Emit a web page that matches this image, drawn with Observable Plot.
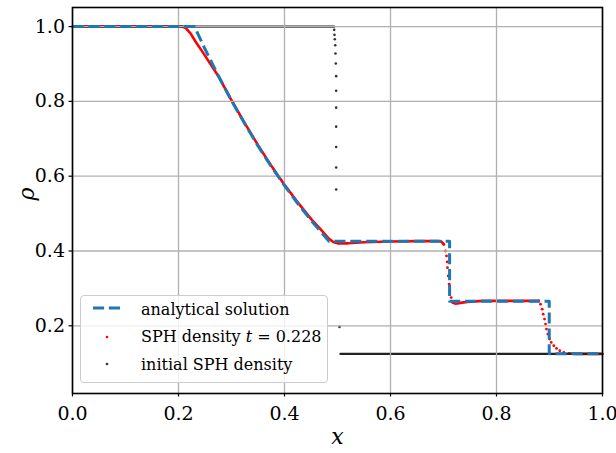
<!DOCTYPE html>
<html>
<head>
<meta charset="utf-8">
<script src="https://cdn.jsdelivr.net/npm/d3@7"></script>
<script src="https://cdn.jsdelivr.net/npm/@observablehq/plot@0.6"></script>
<style>
  body { margin: 0; background: #fff; }
  #wrap { position: relative; width: 616px; height: 453px; }
  #legend { position: absolute; left: 80px; top: 295px; width: 248px; height: 88px; box-sizing: border-box;
    border: 1px solid #cccccc; border-radius: 4px; background: rgba(255,255,255,0.8);
    font-family: "DejaVu Serif", serif; font-size: 16px; color: #000; }
  #legend .t { position: absolute; left: 60px; line-height: 16px; white-space: nowrap; }
  #legend svg { position: absolute; left: 0; top: 0; }
</style>
</head>
<body>
<div id="wrap"></div>
<script>
// ---- data ----
const xTicks = [0, 0.2, 0.4, 0.6, 0.8, 1.0];
const yTicks = [0.2, 0.4, 0.6, 0.8, 1.0];

// analytical solution (Sod tube)
const anaX   = [0, 0.2302, 0.25, 0.275, 0.3, 0.325, 0.35, 0.375, 0.4, 0.425, 0.45, 0.475, 0.484, 0.7115, 0.7115, 0.8995, 0.8995, 1.0];
const anaRho = [1, 1, 0.940, 0.869, 0.802, 0.740, 0.681, 0.626, 0.575, 0.527, 0.482, 0.441, 0.4263, 0.4263, 0.2656, 0.2656, 0.125, 0.125];

// SPH density t = 0.228, densely packed parts (segments)
const sphSeg = ["a","a","a","a","a","a","a","a","a","a","a","a","a","a","a","a","a","a","a","a","a","a","a","a","a",
                "b","b","b","b","b","b","b",
                "c","c","c"];
const sphX   = [0, 0.205, 0.213, 0.223, 0.232, 0.245, 0.275, 0.3, 0.325, 0.35, 0.375, 0.4, 0.425, 0.45, 0.47, 0.483, 0.492, 0.5, 0.52, 0.55, 0.6, 0.65, 0.69, 0.696, 0.7006,
                0.7175, 0.723, 0.735, 0.745, 0.775, 0.87, 0.8798,
                0.9364, 0.95, 1.0];
const sphRho = [1, 1, 0.997, 0.981, 0.960, 0.933, 0.868, 0.803, 0.742, 0.683, 0.628, 0.577, 0.530, 0.486, 0.455, 0.434, 0.424, 0.4205, 0.4205, 0.4235, 0.4255, 0.4265, 0.4267, 0.425, 0.4179,
                0.2621, 0.259, 0.262, 0.264, 0.2667, 0.2667, 0.2667,
                0.1261, 0.125, 0.125];
// SPH density t = 0.228, sparse particles (contact and shock)
const sphDotX   = [0.7006, 0.7038, 0.7057, 0.7070, 0.7075, 0.7089, 0.7108, 0.7119, 0.7145, 0.7175,
                   0.8798, 0.8830, 0.8862, 0.8881, 0.8906, 0.8925, 0.8943, 0.8968, 0.9000, 0.9032, 0.9081, 0.9132, 0.9194, 0.9270, 0.9364];
const sphDotRho = [0.4179, 0.4000, 0.3867, 0.3707, 0.3555, 0.3333, 0.3112, 0.2933, 0.2755, 0.2621,
                   0.2667, 0.2579, 0.2445, 0.2312, 0.2179, 0.2045, 0.1912, 0.1779, 0.1645, 0.1555, 0.1467, 0.1395, 0.1333, 0.1288, 0.1261];

// initial SPH density
const iniSeg = ["L", "L", "R", "R"];
const iniX   = [0, 0.4938, 0.5057, 1.0];
const iniRho = [1, 1, 0.125, 0.125];
const iniDotX   = [0.4938, 0.4943, 0.4949, 0.4957, 0.4962, 0.4968, 0.4975, 0.4975, 0.4975, 0.4975, 0.4975, 0.4975, 0.4975, 0.5038];
const iniDotRho = [0.9912, 0.9779, 0.9661, 0.9501, 0.928, 0.9013, 0.8675, 0.8285, 0.7832, 0.7325, 0.6781, 0.6232, 0.5645, 0.197];

// ---- build tables ----
const ana = anaX.map((x, i) => ({x, rho: anaRho[i]}));
const sph = sphX.map((x, i) => ({x, rho: sphRho[i], s: sphSeg[i]}));
const sphDots = sphDotX.map((x, i) => ({x, rho: sphDotRho[i]}));
const ini = iniX.map((x, i) => ({x, rho: iniRho[i], s: iniSeg[i]}));
const iniLeft = ini.filter(d => d.s === "L");
const iniDots = iniDotX.map((x, i) => ({x, rho: iniDotRho[i]}));

const FONT = "DejaVu Serif";
const chart = Plot.plot({
  width: 616, height: 453,
  marginLeft: 72, marginRight: 14, marginTop: 7, marginBottom: 60,
  style: {fontFamily: FONT, background: "white", color: "black", overflow: "visible"},
  x: {domain: [0, 1]},
  y: {domain: [0.019, 1.051]},
  marks: [
    // SPH (scatter, below grid like matplotlib collections)
    Plot.line(sph, {x: "x", y: "rho", z: "s", stroke: "red", strokeWidth: 2.6}),
    Plot.dot(sphDots, {x: "x", y: "rho", r: 1.4, fill: "red", stroke: "none"}),
    // initial SPH
    Plot.line(ini, {x: "x", y: "rho", z: "s", stroke: "#222", strokeWidth: 2.4}),
    Plot.line(iniLeft, {x: "x", y: "rho", stroke: "#999", strokeWidth: 0.6}),
    Plot.dot(iniDots, {x: "x", y: "rho", r: 1.3, fill: "#333", stroke: "none"}),
    // grid
    Plot.ruleX(xTicks, {stroke: "#b0b0b0", strokeWidth: 1.3}),
    Plot.ruleY(yTicks, {stroke: "#b0b0b0", strokeWidth: 1.3}),
    // analytical
    Plot.line(ana, {x: "x", y: "rho", stroke: "#1f77b4", strokeWidth: 3,
      strokeDasharray: "11.1,4.8", strokeLinecap: "butt", strokeLinejoin: "round"}),
    // axes
    Plot.axisX({ticks: xTicks, tickFormat: d => d.toFixed(1), tickSize: 3.5, tickPadding: 9,
      fontSize: 19, label: null, strokeWidth: 1.2}),
    Plot.axisY({ticks: yTicks, tickFormat: d => d.toFixed(1), tickSize: 3.5, tickPadding: 4,
      fontSize: 19, label: null, strokeWidth: 1.2}),
    Plot.frame({stroke: "black", strokeWidth: 1.6}),
    Plot.text(["x"], {frameAnchor: "bottom", dy: 50, fontStyle: "italic", fontSize: 22, fill: "black"}),
    Plot.text(["ρ"], {frameAnchor: "left", dx: -46, rotate: -90, fontStyle: "italic", fontSize: 22, fill: "black"})
  ]
});

const wrap = document.getElementById("wrap");
wrap.appendChild(chart);

const legend = document.createElement("div");
legend.id = "legend";
legend.innerHTML = `
  <svg width="246" height="86">
    <line x1="12" x2="39" y1="12" y2="12" stroke="#1f77b4" stroke-width="3" stroke-dasharray="11.1,4.8"/>
    <circle cx="26" cy="41" r="1.3" fill="red"/>
    <circle cx="26" cy="68" r="1.3" fill="#333"/>
  </svg>
  <div class="t" style="top:5.5px">analytical solution</div>
  <div class="t" style="top:32.5px">SPH density <i>t</i> = 0.228</div>
  <div class="t" style="top:60.5px">initial SPH density</div>`;
wrap.appendChild(legend);
</script>
</body>
</html>
